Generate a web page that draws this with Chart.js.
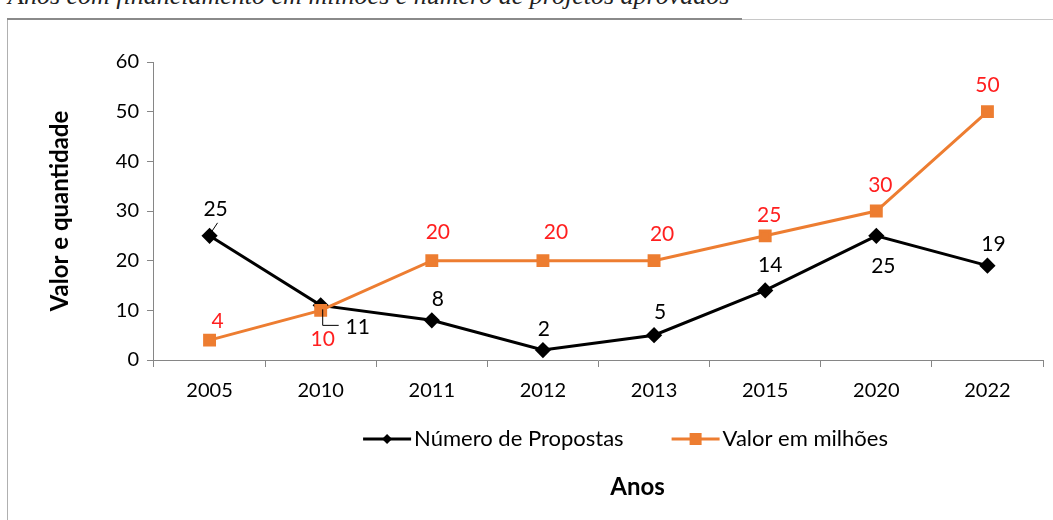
<!DOCTYPE html>
<html>
<head>
<meta charset="utf-8">
<script src="https://cdn.jsdelivr.net/npm/chart.js@4.4.1/dist/chart.umd.min.js"></script>
<style>
  html, body { margin: 0; padding: 0; background: #fff; }
  #wrap { position: relative; width: 1053px; height: 520px; overflow: hidden; }
  #caption { position: absolute; left: 8px; top: -19px; font: italic 26px "Liberation Serif", serif; color: #222; white-space: nowrap; }
  #capline { position: absolute; left: 7px; top: 18px; width: 735px; height: 2px; background: #8a8a8a; }
  #frame { position: absolute; left: 7px; top: 19px; width: 1100px; height: 600px; border-top: 1px solid #c8c8c8; border-left: 1px solid #b0b0b0; }
  #chartBox { position: absolute; left: 0; top: 0; width: 1053px; height: 520px; }
</style>
</head>
<body>
<div id="wrap">
  <div id="caption">Anos com financiamento em milhões e número de projetos aprovados</div>
  <div id="frame"></div>
  <div id="capline"></div>
  <div id="chartBox"><canvas id="lineChart" width="1053" height="520"></canvas></div>
</div>
<script>
const anos = ['2005', '2010', '2011', '2012', '2013', '2015', '2020', '2022'];
const numeroPropostas = [25, 11, 8, 2, 5, 14, 25, 19];
const valorMilhoes = [4, 10, 20, 20, 20, 25, 30, 50];
const yTicks = [0, 10, 20, 30, 40, 50, 60];
const seriesNames = ['Número de Propostas', 'Valor em milhões'];
const xTitle = 'Anos';

// label offsets from each point (px)
const blackOffsets = [[6, -27], [37, 22], [6, -21], [1, -21], [6, -23], [5, -25], [7, 30], [6, -21]];
const orangeOffsets = [[8, -19], [2, 29], [6, -28], [13, -28], [8, -26], [4, -21], [4, -26], [0, -26]];

const FONT = 'Lato, "Noto Sans", sans-serif';
const BLACK = '#000000';
const ORANGE = '#ED7D31';

const labelPlugin = {
  id: 'pointLabels',
  afterDatasetsDraw(chart) {
    const ctx = chart.ctx;
    ctx.save();
    ctx.font = '21px ' + FONT;
    ctx.textAlign = 'center';
    ctx.textBaseline = 'middle';
    const sets = [[0, blackOffsets, BLACK], [1, orangeOffsets, '#ff1f1f']];
    sets.forEach(([di, offs, col]) => {
      const meta = chart.getDatasetMeta(di);
      const vals = chart.data.datasets[di].data;
      meta.data.forEach((pt, i) => {
        ctx.fillStyle = col;
        ctx.fillText(String(vals[i]), pt.x + offs[i][0], pt.y + offs[i][1]);
      });
    });
    // leader lines for the first two black labels
    const m = chart.getDatasetMeta(0).data;
    ctx.strokeStyle = '#000'; ctx.lineWidth = 1;
    ctx.beginPath();
    ctx.moveTo(m[0].x + 8, m[0].y - 13); ctx.lineTo(m[0].x + 2, m[0].y - 4);
    ctx.moveTo(m[1].x + 2, m[1].y + 4); ctx.lineTo(m[1].x + 2, m[1].y + 20); ctx.lineTo(m[1].x + 18, m[1].y + 20);
    ctx.stroke();
    ctx.restore();
  }
};

// legend (line + marker, Excel style) and x axis title below it
const bottomPlugin = {
  id: 'bottomLegend',
  afterDraw(chart) {
    const ctx = chart.ctx;
    const a = chart.chartArea;
    const cx = (a.left + a.right) / 2;
    ctx.save();
    ctx.font = '22px ' + FONT;
    ctx.textBaseline = 'middle';
    const lineW = 48, gapText = 3, gapItem = 48;
    const widths = seriesNames.map(t => lineW + gapText + ctx.measureText(t).width);
    const total = widths[0] + gapItem + widths[1];
    let x = cx + 27 - total / 2;
    const y = a.bottom + 79;
    const cols = [BLACK, ORANGE];
    seriesNames.forEach((name, i) => {
      ctx.strokeStyle = cols[i]; ctx.fillStyle = cols[i]; ctx.lineWidth = 3;
      ctx.beginPath(); ctx.moveTo(x, y); ctx.lineTo(x + lineW, y); ctx.stroke();
      const mx = x + lineW / 2;
      if (i === 0) {
        ctx.beginPath(); ctx.moveTo(mx, y - 5); ctx.lineTo(mx + 5, y); ctx.lineTo(mx, y + 5); ctx.lineTo(mx - 5, y); ctx.closePath(); ctx.fill();
      } else {
        ctx.fillRect(mx - 6, y - 6, 12, 12);
      }
      ctx.fillStyle = '#000';
      ctx.textAlign = 'left';
      ctx.fillText(name, x + lineW + gapText, y);
      x += widths[i] + gapItem;
    });
    ctx.font = 'bold 24px ' + FONT;
    ctx.textAlign = 'center';
    ctx.fillText(xTitle, cx + 39, a.bottom + 127);
    ctx.restore();
  }
};

document.addEventListener('DOMContentLoaded', () => {
  const ctx = document.getElementById('lineChart');
  new Chart(ctx, {
    type: 'line',
    data: {
      labels: anos,
      datasets: [{
        label: seriesNames[0],
        data: numeroPropostas,
        borderColor: BLACK,
        backgroundColor: BLACK,
        borderWidth: 3,
        pointStyle: 'rectRot',
        pointRadius: 6,
        tension: 0,
        order: 2
      }, {
        label: seriesNames[1],
        data: valorMilhoes,
        borderColor: ORANGE,
        backgroundColor: ORANGE,
        borderWidth: 3,
        pointStyle: 'rect',
        pointRadius: 7,
        tension: 0,
        order: 1
      }]
    },
    options: {
      responsive: false,
      animation: false,
      layout: { padding: { left: 46, right: 10, top: 62, bottom: 105 } },
      plugins: {
        legend: { display: false },
        title: { display: false },
        tooltip: { enabled: false }
      },
      scales: {
        x: {
          offset: true,
          border: { color: '#868686', width: 1 },
          grid: { offset: true, drawOnChartArea: false, drawTicks: true, tickLength: 7, color: '#868686' },
          ticks: { color: '#000', font: { size: 20, family: FONT }, padding: 12 }
        },
        y: {
          min: 0,
          max: 60,
          afterBuildTicks(axis) { axis.ticks = yTicks.map(v => ({ value: v })); },
          border: { color: '#868686', width: 1 },
          grid: { drawOnChartArea: false, drawTicks: true, tickLength: 7, color: '#868686' },
          ticks: { color: '#000', font: { size: 20, family: FONT }, padding: 8 },
          title: {
            display: true,
            text: 'Valor e quantidade',
            color: '#000',
            font: { size: 24, weight: 'bold', family: FONT },
            padding: { top: 0, bottom: 33 }
          }
        }
      }
    },
    plugins: [labelPlugin, bottomPlugin]
  });
});
</script>
</body>
</html>
